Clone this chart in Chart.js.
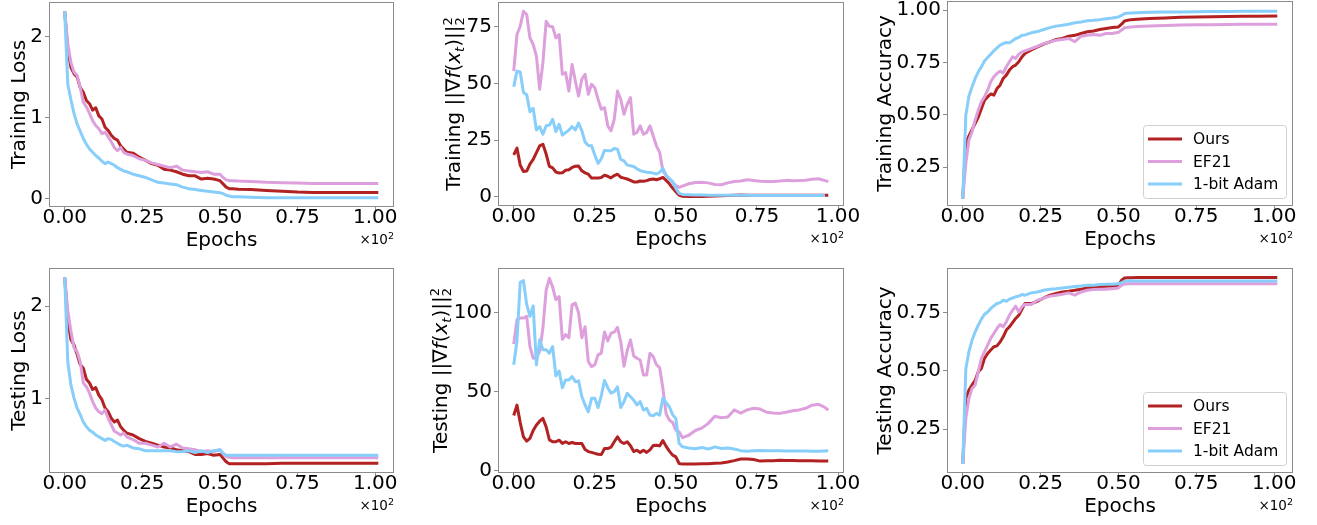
<!DOCTYPE html>
<html>
<head>
<meta charset="utf-8">
<script src="https://cdn.jsdelivr.net/npm/chart.js@4.4.1/dist/chart.umd.min.js"></script>
<style>
  body { margin: 0; background: #fff; width: 1317px; height: 525px; position: relative; overflow: hidden; }
  canvas { position: absolute; }
</style>
</head>
<body>
<canvas id="c1"></canvas>
<canvas id="c2"></canvas>
<canvas id="c3"></canvas>
<canvas id="c4"></canvas>
<canvas id="c5"></canvas>
<canvas id="c6"></canvas>
<script>
// ---- data (epochs) ----
const seriesNames = ['Ours', 'EF21', '1-bit Adam'];
const seriesColors = ['#b22222', '#dda0dd', '#87cefa'];

const xTickValues = [0, 25, 50, 75, 100];
const xTickLabels = ['0.00', '0.25', '0.50', '0.75', '1.00'];

const lossEpochs = [0,1,2,3,4,5,6,7,8,9,10,11,12,13,14,15,16,17,18,19,20,22,24,26,28,30,32,34,36,38,40,42,44,46,48,50,51,52,53,54,56,60,65,70,75,80,85,90,95,101];

const trainLossOurs = [2.31,1.83,1.62,1.54,1.50,1.37,1.31,1.21,1.17,1.09,1.12,1.02,0.98,0.88,0.84,0.78,0.74,0.72,0.65,0.61,0.57,
  0.56,0.51,0.47,0.43,0.41,0.36,0.35,0.33,0.30,0.28,0.28,0.24,0.25,0.24,0.22,
  0.18,0.14,0.12,0.12,0.115,0.11,0.10,0.09,0.08,0.075,0.075,0.075,0.075,0.075];
const trainLossEF21 = [2.31,1.91,1.68,1.56,1.52,1.37,1.19,1.13,1.05,0.96,0.90,0.86,0.80,0.82,0.76,0.70,0.63,0.59,0.63,0.57,0.55,
  0.53,0.49,0.47,0.44,0.42,0.40,0.38,0.40,0.35,0.34,0.33,0.32,0.33,0.30,0.30,
  0.26,0.23,0.22,0.22,0.215,0.21,0.20,0.195,0.19,0.185,0.185,0.185,0.185,0.185];
const trainLossAdam = [2.31,1.41,1.22,1.05,0.92,0.83,0.74,0.67,0.61,0.57,0.53,0.50,0.46,0.43,0.45,0.43,0.41,0.38,0.36,0.34,0.33,
  0.30,0.28,0.26,0.23,0.20,0.19,0.18,0.17,0.14,0.12,0.11,0.10,0.09,0.08,0.07,
  0.06,0.04,0.03,0.02,0.02,0.015,0.01,0.01,0.01,0.01,0.01,0.01,0.01,0.01];

const testLossOurs = [2.31,1.84,1.64,1.58,1.48,1.37,1.33,1.21,1.17,1.10,1.12,1.04,0.99,0.90,0.86,0.79,0.75,0.77,0.70,0.66,0.63,
  0.61,0.57,0.54,0.52,0.50,0.48,0.47,0.45,0.44,0.43,0.40,0.40,0.41,0.39,0.40,
  0.36,0.32,0.30,0.30,0.30,0.30,0.30,0.305,0.305,0.305,0.305,0.305,0.305,0.305];
const testLossEF21 = [2.31,1.95,1.73,1.55,1.51,1.40,1.17,1.13,1.06,0.97,0.90,0.86,0.84,0.88,0.79,0.72,0.65,0.63,0.61,0.63,0.59,
  0.56,0.52,0.52,0.50,0.48,0.52,0.48,0.51,0.47,0.46,0.45,0.43,0.44,0.43,0.45,
  0.41,0.38,0.37,0.365,0.365,0.365,0.365,0.365,0.365,0.365,0.365,0.365,0.365,0.365];
const testLossAdam = [2.31,1.40,1.15,1.01,0.90,0.83,0.75,0.70,0.66,0.64,0.61,0.59,0.57,0.55,0.57,0.56,0.54,0.52,0.50,0.49,0.50,
  0.47,0.46,0.44,0.44,0.44,0.44,0.44,0.43,0.43,0.44,0.42,0.44,0.42,0.44,0.45,
  0.41,0.39,0.39,0.39,0.39,0.39,0.39,0.39,0.39,0.39,0.39,0.39,0.39,0.39];

const trainAccOurs = [0.10,0.364,0.40,0.43,0.46,0.49,0.53,0.57,0.586,0.60,0.594,0.626,0.642,0.674,0.69,0.714,0.73,0.738,0.754,0.777,0.793,
  0.81,0.825,0.838,0.849,0.86,0.865,0.876,0.88,0.889,0.897,0.901,0.908,0.913,0.917,0.92,
  0.933,0.949,0.952,0.955,0.957,0.96,0.963,0.966,0.968,0.969,0.97,0.971,0.971,0.972];
const trainAccEF21 = [0.10,0.27,0.38,0.42,0.476,0.523,0.563,0.586,0.618,0.658,0.682,0.698,0.709,0.70,0.73,0.754,0.777,0.77,0.79,0.80,0.806,
  0.817,0.828,0.84,0.849,0.857,0.86,0.865,0.85,0.876,0.88,0.884,0.88,0.889,0.889,0.895,
  0.905,0.916,0.918,0.92,0.922,0.925,0.927,0.929,0.93,0.931,0.932,0.933,0.933,0.933];
const trainAccAdam = [0.10,0.50,0.59,0.634,0.674,0.706,0.73,0.757,0.774,0.79,0.806,0.82,0.833,0.84,0.846,0.844,0.854,0.865,0.87,0.88,0.882,
  0.892,0.898,0.908,0.917,0.924,0.928,0.933,0.94,0.944,0.95,0.952,0.955,0.959,0.963,0.968,
  0.975,0.984,0.986,0.987,0.988,0.99,0.991,0.992,0.993,0.994,0.994,0.995,0.995,0.995];

const testAccOurs = [0.10,0.382,0.418,0.44,0.46,0.497,0.511,0.554,0.575,0.59,0.604,0.608,0.625,0.647,0.676,0.69,0.708,0.726,0.74,0.765,0.79,
  0.79,0.80,0.814,0.826,0.833,0.84,0.843,0.847,0.852,0.857,0.86,0.862,0.864,0.866,0.869,
  0.89,0.90,0.901,0.901,0.902,0.902,0.902,0.902,0.902,0.902,0.902,0.902,0.902,0.902];
const testAccEF21 = [0.10,0.296,0.382,0.425,0.44,0.497,0.554,0.583,0.611,0.64,0.661,0.683,0.70,0.69,0.711,0.74,0.761,0.779,0.754,0.776,0.786,
  0.786,0.804,0.814,0.822,0.826,0.83,0.836,0.826,0.84,0.847,0.85,0.852,0.852,0.854,0.857,
  0.869,0.874,0.875,0.875,0.875,0.875,0.875,0.875,0.875,0.875,0.875,0.875,0.875,0.875];
const testAccAdam = [0.10,0.511,0.583,0.633,0.668,0.697,0.723,0.744,0.754,0.769,0.78,0.79,0.794,0.804,0.80,0.809,0.814,0.819,0.822,0.829,0.826,
  0.836,0.84,0.847,0.852,0.854,0.857,0.86,0.863,0.866,0.869,0.869,0.872,0.873,0.873,0.875,
  0.88,0.886,0.887,0.887,0.887,0.887,0.887,0.887,0.887,0.887,0.887,0.887,0.887,0.887];

const gradEpochs = [0,1,2,3,4,5,6,7,8,9,10,11,12,13,14,15,16,17,18,19,20,21,22,23,24,25,26,27,28,29,30,31,32,33,34,35,36,37,38,39,40,41,42,43,44,45,46,47,48,49,50,51,52,
  54,56,58,60,62,64,66,68,70,72,74,76,78,80,82,84,86,88,90,92,94,96,97];

const trainGradOurs = [18.5,21.5,14.0,11.2,11.4,14.5,16.5,19.5,22.5,23.2,18.9,13.5,12.8,11.0,10.5,10.6,11.8,12.0,13.0,13.5,
  13.6,11.5,10.6,10.0,8.3,8.3,8.3,8.6,9.6,9.1,8.4,9.4,10.0,8.7,8.3,7.9,7.3,6.6,6.6,7.0,
  6.9,7.2,7.7,7.9,7.6,8.0,8.6,7.3,5.8,3.9,2.3,0.8,0.3,
  0.2,0.2,0.2,0.3,0.4,0.5,0.6,0.8,0.9,0.8,0.7,0.8,0.8,0.8,0.8,0.8,0.8,0.8,0.8,0.8,0.8,0.8,0.8];
const trainGradEF21 = [55.4,71.5,75.1,81.7,80.3,70.0,67.1,62.0,47.4,59.1,77.3,75.1,74.9,70.0,71.5,54.0,54.7,46.6,58.3,51.0,
  44.4,51.8,54.0,45.2,49.6,48.1,43.0,38.6,39.3,31.3,29.1,34.2,46.6,43.0,36.4,40.8,43.7,27.6,28.4,31.3,
  27.6,28.4,31.3,26.9,22.5,19.6,11.5,9.4,7.9,6.4,5.0,4.2,4.8,
  5.8,6.4,6.5,6.2,5.5,5.4,6.2,6.8,7.0,7.6,7.2,6.9,6.8,6.8,7.0,7.3,7.1,7.2,7.4,7.8,8.0,7.2,6.8];
const trainGradAdam = [48.5,55.4,55.0,46.0,45.0,37.5,39.0,29.5,31.0,27.6,31.3,31.6,34.2,28.8,32.0,27.2,28.3,29.4,31.0,29.5,
  32.5,29.2,24.2,22.6,22.5,18.5,14.8,16.8,20.5,20.3,20.3,21.3,21.0,16.5,15.9,14.0,13.7,13.4,12.4,11.6,
  11.2,10.9,10.8,10.5,10.1,10.8,12.6,9.6,8.0,6.8,3.8,1.6,1.1,
  1.0,0.9,0.9,0.8,0.8,0.8,0.8,0.7,0.7,0.7,0.6,0.6,0.6,0.6,0.6,0.6,0.6,0.6,0.6,0.6,0.6,0.6];

const testGradOurs = [35,41.5,30.5,21.5,18.8,20.5,25.5,29,31.4,33.1,27.8,19.6,18.4,18.4,19.4,17.4,18.4,17.3,17.9,17.3,
  17.3,17.3,13.5,12.2,11.7,11.1,10.5,10.3,14.1,14.1,15.0,18.4,21.5,18.4,17.3,18.4,15.9,12.2,13.1,11.7,
  13.0,11.7,13.3,16.0,16.2,15.8,19.2,15.5,12.5,10.0,8.9,4.7,4.3,
  4.3,4.4,4.5,4.6,4.8,5.0,5.6,6.5,7.5,7.5,7.2,6.2,6.4,6.5,6.7,6.6,6.6,6.5,6.5,6.4,6.3,6.3,6.3];
const testGradEF21 = [80.0,95.4,96.4,96.4,97.5,78.5,71.1,71.5,75.5,90.1,114,121.5,116,108,110,83,86,84,104.9,105.9,
  99.6,84,91,69,65.8,67,73.2,74.3,87.6,82,86.9,87.6,90.5,81.6,66,76,82.7,72.5,71.1,70.0,
  60.5,60.5,74.3,72.2,67,65.2,52,36,32.1,30.6,25.7,24.7,21.0,
  22.5,25.5,27,30,34.5,33.5,34,38.5,36.5,38.5,39.5,39,37,36.5,36.3,37,38,38.5,39.5,41.5,42.0,40,38.4];
const testGradAdam = [67,82,119,120,105,97.5,104,66.9,82.7,76.4,76.4,74.3,78.5,60,63,52.5,57.4,57.4,59.5,56.3,
  56.8,47,41.6,37.3,45.8,45.8,40,47.5,57,52.5,49,50,53,40,43.7,48.9,46.8,44.7,41.6,43.7,
  38.4,39.5,35.2,34.8,36.3,35.2,46,43,40.5,35.5,33,17.5,15.2,
  14.5,14.0,14.8,13.8,15.2,14.2,14.5,13.8,12.8,12.4,12.8,12.9,12.8,12.8,12.7,12.6,12.6,12.5,12.5,12.4,12.4,12.6,12.7];

const trainLossTicks = [0, 1, 2];
const testLossTicks = [1, 2];
const trainGradTicks = [0, 25, 50, 75];
const testGradTicks = [0, 50, 100];
const trainAccTicks = [0.25, 0.5, 0.75, 1.0];
const testAccTicks = [0.25, 0.5, 0.75];

// ---- styling / layout ----
const FONT = 'DejaVu Sans';
const FRAME = '#8c8c8c';
const COLS = [0, 430, 860];
const ROWS = [0, 262];
const XH = 50;

function gradTitle(word) {
  return [
    { t: word + ' ||\u2207' }, { t: 'f', it: true }, { t: '(' }, { t: 'x', it: true },
    { t: 't', it: true, sz: 13, dy: 4 }, { t: ')||' },
    { t: '2', sz: 13, dy: -8, stay: true }, { t: '2', sz: 13, dy: 4 }
  ];
}

const panels = [
  { id: 'c1', col: 0, row: 0, box: [49, 2, 394, 207], x: lossEpochs, ys: [trainLossOurs, trainLossEF21, trainLossAdam],
    xr: [-5.05, 106.05], yr: [-0.105, 2.425], yTicks: trainLossTicks, dec: 0, title: [{ t: 'Training Loss' }], off: 24 },
  { id: 'c2', col: 1, row: 0, box: [498, 2, 844, 206], x: gradEpochs, ys: [trainGradOurs, trainGradEF21, trainGradAdam],
    xr: [-4.85, 101.85], yr: [-3.98, 85.8], yTicks: trainGradTicks, dec: 0, title: gradTitle('Training'), off: 38 },
  { id: 'c3', col: 2, row: 0, box: [947, 1, 1293, 206], x: lossEpochs, ys: [trainAccOurs, trainAccEF21, trainAccAdam],
    xr: [-5.05, 106.05], yr: [0.065, 1.044], yTicks: trainAccTicks, dec: 2, title: [{ t: 'Training Accuracy' }], off: 56, legend: true },
  { id: 'c4', col: 0, row: 1, box: [49, 268, 394, 473], x: lossEpochs, ys: [testLossOurs, testLossEF21, testLossAdam],
    xr: [-5.05, 106.05], yr: [0.1995, 2.4105], yTicks: testLossTicks, dec: 0, title: [{ t: 'Testing Loss' }], off: 24 },
  { id: 'c5', col: 1, row: 1, box: [498, 268, 844, 473], x: gradEpochs, ys: [testGradOurs, testGradEF21, testGradAdam],
    xr: [-4.85, 101.85], yr: [-1.3, 128], yTicks: testGradTicks, dec: 0, title: gradTitle('Testing'), off: 51 },
  { id: 'c6', col: 2, row: 1, box: [947, 268, 1293, 473], x: lossEpochs, ys: [testAccOurs, testAccEF21, testAccAdam],
    xr: [-5.05, 106.05], yr: [0.061, 0.943], yTicks: testAccTicks, dec: 2, title: [{ t: 'Testing Accuracy' }], off: 56, legend: true }
];

function drawRuns(ctx, runs, cx, cy) {
  const font = r => (r.it ? 'italic ' : '') + (r.sz || 20) + 'px "' + FONT + '"';
  let total = 0;
  runs.forEach(r => { ctx.font = font(r); if (!r.stay) total += ctx.measureText(r.t).width; });
  let x = -total / 2;
  ctx.save();
  ctx.translate(cx, cy);
  ctx.rotate(-Math.PI / 2);
  ctx.fillStyle = '#000';
  ctx.textBaseline = 'alphabetic';
  ctx.textAlign = 'left';
  runs.forEach(r => {
    ctx.font = font(r);
    ctx.fillText(r.t, x, r.dy || 0);
    if (!r.stay) x += ctx.measureText(r.t).width;
  });
  ctx.restore();
}

const panelText = {
  id: 'panelText',
  afterDraw(chart, args, o) {
    const { ctx, chartArea: a } = chart;
    ctx.save();
    // frame
    ctx.strokeStyle = FRAME;
    ctx.lineWidth = 1;
    ctx.strokeRect(a.left + 0.5, a.top + 0.5, a.right - a.left - 1, a.bottom - a.top - 1);
    // y title
    drawRuns(ctx, o.title, a.left - o.off, (a.top + a.bottom) / 2);
    // x offset text
    ctx.fillStyle = '#000';
    ctx.textBaseline = 'alphabetic';
    ctx.textAlign = 'right';
    ctx.font = '9.5px "' + FONT + '"';
    const sw = ctx.measureText('2').width;
    ctx.fillText('2', a.right, a.bottom + 32);
    ctx.font = '13.5px "' + FONT + '"';
    ctx.fillText('\u00d710', a.right - sw, a.bottom + 37);
    // legend
    if (o.legend) {
      const w = 143, h = 73;
      const x0 = a.right - 7 - w, y0 = a.bottom - 8 - h;
      ctx.fillStyle = 'rgba(255,255,255,0.8)';
      ctx.strokeStyle = '#d0d0d0';
      ctx.lineWidth = 1;
      ctx.beginPath();
      ctx.roundRect(x0 + 0.5, y0 + 0.5, w, h, 3);
      ctx.fill();
      ctx.stroke();
      ctx.font = '15.5px "' + FONT + '"';
      ctx.textAlign = 'left';
      ctx.textBaseline = 'middle';
      seriesNames.forEach((name, i) => {
        const y = y0 + 14 + i * 22.5;
        ctx.strokeStyle = seriesColors[i];
        ctx.lineWidth = 3;
        ctx.beginPath();
        ctx.moveTo(x0 + 5, y);
        ctx.lineTo(x0 + 39, y);
        ctx.stroke();
        ctx.fillStyle = '#000';
        ctx.fillText(name, x0 + 50, y + 1);
      });
    }
    ctx.restore();
  }
};

panels.forEach(p => {
  const cv = document.getElementById(p.id);
  const left = COLS[p.col], top = ROWS[p.row];
  const W = p.col === 2 ? 1317 - left : p.box[2] - left + 20;
  const H = p.row === 0 ? 262 : 263;
  cv.width = W; cv.height = H;
  cv.style.left = left + 'px'; cv.style.top = top + 'px';
  cv.style.width = W + 'px'; cv.style.height = H + 'px';

  const yW = p.box[0] - left;
  const datasets = p.ys.map((vals, i) => ({
    label: seriesNames[i],
    data: p.x.map((e, k) => ({ x: e, y: vals[k] })),
    borderColor: seriesColors[i],
    borderWidth: 3,
    borderJoinStyle: 'round',
    pointRadius: 0,
    tension: 0,
    order: 3 - i
  }));

  new Chart(cv, {
    type: 'line',
    data: { datasets },
    options: {
      responsive: false,
      animation: false,
      events: [],
      layout: {
        autoPadding: false,
        padding: { left: 0, top: p.box[1] - top, right: W - (p.box[2] - left), bottom: H - (p.box[3] - top) - XH }
      },
      plugins: {
        legend: { display: false },
        tooltip: { enabled: false },
        panelText: { title: p.title, off: p.off, legend: !!p.legend }
      },
      scales: {
        x: {
          type: 'linear',
          min: p.xr[0], max: p.xr[1],
          afterBuildTicks: s => { s.ticks = xTickValues.map(v => ({ value: v })); },
          afterFit: s => { s.height = XH; s.paddingLeft = 0; s.paddingRight = 0; },
          grid: { drawOnChartArea: false, drawTicks: true, tickLength: 4, color: FRAME },
          border: { display: false },
          ticks: {
            color: '#000', padding: 1, maxRotation: 0, autoSkip: false,
            font: { family: FONT, size: 20, lineHeight: 0.6 },
            callback: v => xTickLabels[xTickValues.indexOf(v)]
          },
          title: {
            display: true, text: 'Epochs', color: '#000',
            font: { family: FONT, size: 20, lineHeight: 1.2 },
            padding: { top: 0, bottom: 4 }
          }
        },
        y: {
          type: 'linear',
          min: p.yr[0], max: p.yr[1],
          afterBuildTicks: s => { s.ticks = p.yTicks.map(v => ({ value: v })); },
          afterFit: s => { s.width = yW; s.paddingTop = 0; s.paddingBottom = 0; },
          grid: { drawOnChartArea: false, drawTicks: true, tickLength: 4, color: FRAME },
          border: { display: false },
          ticks: {
            color: '#000', padding: 2, autoSkip: false,
            font: { family: FONT, size: 20, lineHeight: 1 },
            callback: v => v.toFixed(p.dec)
          }
        }
      }
    },
    plugins: [panelText]
  });
});
</script>
</body>
</html>
